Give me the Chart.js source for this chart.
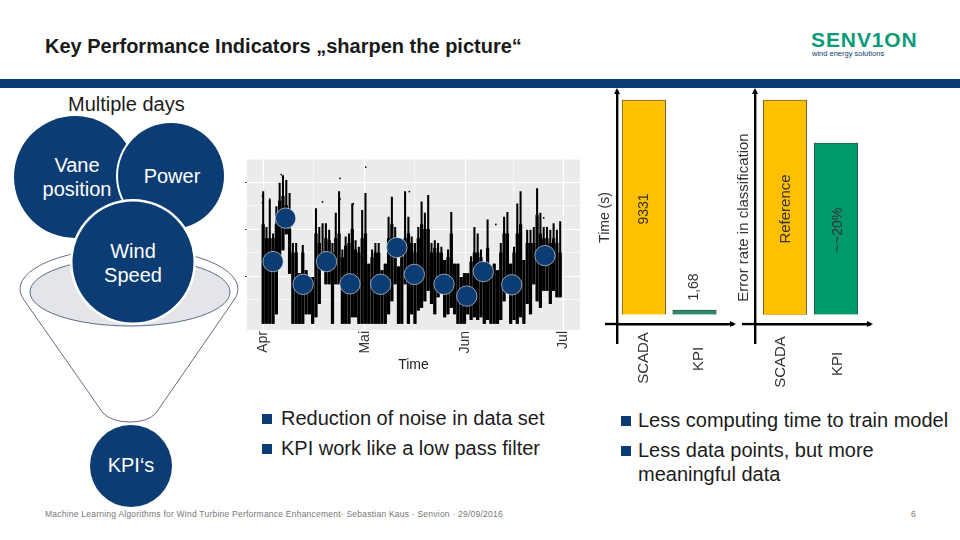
<!DOCTYPE html>
<html><head><meta charset="utf-8">
<style>
html,body{margin:0;padding:0;background:#fff;width:960px;height:540px;overflow:hidden;font-family:"Liberation Sans",Arial,sans-serif}
canvas{position:absolute}
.t{position:absolute;white-space:nowrap;color:#1c1c1c}
.sq{position:absolute;width:10px;height:10px;background:#0b3c73}
#shapes{position:absolute;left:0;top:0}
</style>
<script src="https://cdn.jsdelivr.net/npm/chart.js@4"></script>
</head><body>
<svg id="shapes" width="960" height="540" font-family="Liberation Sans, Arial, sans-serif">
  <rect x="0" y="79" width="960" height="9" fill="#0b3c73"/>
  <circle cx="75" cy="177" r="61" fill="#0b3c73"/>
  <circle cx="171" cy="176" r="55" fill="#fff"/>
  <circle cx="171" cy="176" r="53" fill="#0b3c73"/>
  <path d="M24 300 A109 41 0 1 1 234 300 L156 413 Q148 422 130 422 Q112 422 103 413 Z" fill="#fff" stroke="#20344f" stroke-width=".7"/>
  <ellipse cx="130" cy="292" rx="100" ry="34" fill="#e3e5ea" stroke="#20344f" stroke-width=".7"/>
  <circle cx="133" cy="262" r="63" fill="#fff"/>
  <circle cx="133" cy="262" r="60.5" fill="#0b3c73"/>
  <circle cx="131" cy="466" r="41" fill="#0b3c73"/>
  <g fill="#fff" font-size="20" text-anchor="middle">
    <text x="77" y="172">Vane</text><text x="77" y="196">position</text>
    <text x="172" y="183">Power</text>
    <text x="133" y="258">Wind</text><text x="133" y="282">Speed</text>
    <text x="131" y="472">KPI‘s</text>
  </g>
</svg>

<div class="t" style="left:45px;top:35px;font-size:20px;font-weight:bold;color:#1a1a1a">Key Performance Indicators „sharpen the picture“</div>
<div class="t" style="left:68px;top:93px;font-size:20px">Multiple days</div>
<div class="t" style="left:811px;top:28px;font-size:21px;font-weight:bold;color:#0b9a78;letter-spacing:.9px">SENV1ON</div>
<div class="t" style="left:812px;top:49px;font-size:7.5px;color:#0b3c73">wind energy solutions</div>

<div class="sq" style="left:262px;top:414px"></div>
<div class="t" style="left:281px;top:407px;font-size:20px">Reduction of noise in data set</div>
<div class="sq" style="left:262px;top:444px"></div>
<div class="t" style="left:281px;top:437px;font-size:20px">KPI work like a low pass filter</div>
<div class="sq" style="left:621px;top:416px"></div>
<div class="t" style="left:638px;top:409px;font-size:20px">Less computing time to train model</div>
<div class="sq" style="left:621px;top:446px"></div>
<div class="t" style="left:638px;top:439px;font-size:20px">Less data points, but more</div>
<div class="t" style="left:638px;top:463px;font-size:20px">meaningful data</div>
<div class="t" style="left:45px;top:509px;font-size:8.5px;color:#777;letter-spacing:.23px">Machine Learning Algorithms for Wind Turbine Performance Enhancement· Sebastian Kaus · Senvion · 29/09/2016</div>
<div class="t" style="left:911px;top:509px;font-size:8.5px;color:#777">6</div>

<canvas id="ts" width="345" height="230" style="left:240px;top:150px"></canvas>
<canvas id="time" width="140" height="305" style="left:597px;top:85px"></canvas>
<canvas id="err" width="140" height="305" style="left:735px;top:85px"></canvas>

<script>
// ---- data ----
const spikeTop = [14.0,10.2,13.1,9.5,12.4,14.9,15.7,15.2,13.8,8.5,
 8.5,5.3,8.3,5.6,4.9,4.9,12.2,10.2,10.6,10.6,
 9.9,8.5,11.7,14.0,7.8,9.2,9.5,12.7,8.8,8.1,
 12.0,13.8,6.3,7.8,8.5,8.5,5.6,6.3,11.3,13.4,
 10.2,6.0,7.8,14.0,11.3,9.2,8.5,10.2,12.9,11.7,
 13.6,8.5,8.8,8.5,8.1,6.7,7.8,11.8,6.3,6.3,
 4.9,5.3,5.3,7.1,10.2,9.5,7.8,6.0,11.0,6.0,
 6.3,5.6,8.5,11.3,11.8,6.3,8.1,12.7,14.0,6.7,
 9.9,9.9,10.2,14.3,11.7,10.2,10.2,9.9,10.6,9.9,10.8];
const coreTop = [10.5,9.0,9.0,9.0,10.5,13.0,13.5,12.5,10.0,7.5,
 7.5,5.3,7.5,5.6,4.9,4.9,9.5,8.5,7.5,9.0,
 8.8,7.5,9.0,9.5,7.0,8.2,8.5,10.0,7.8,7.5,
 9.0,9.5,6.3,7.0,7.5,7.5,5.6,6.3,9.0,10.5,
 8.5,6.0,7.0,9.0,9.5,8.5,7.5,9.0,10.5,10.0,
 10.0,7.5,8.0,7.5,7.5,6.7,7.0,9.5,6.3,6.3,
 4.9,5.3,5.3,6.5,7.5,7.5,7.0,6.0,8.0,6.0,
 6.3,5.6,7.5,9.5,9.5,6.3,7.5,9.5,10.5,6.7,
 8.5,8.5,8.5,11.5,9.5,9.0,9.0,8.5,9.0,8.5,7.5];
const spikeLow = [0,0,0,0,1.0,6.0,7.8,9.5,5.3,0,
 0,0,0,1.0,1.0,0,0.7,2.1,6.0,4.2,
 4.2,0,4.2,4.2,0,0,0,0.7,0.7,0,
 0,0,0,0,0,0,0,0,1.0,2.4,
 4.2,0,0,4.2,0,1.0,0,1.4,1.7,2.4,
 3.5,2.1,1.0,2.8,3.2,0.7,1.0,1.7,1.0,0,
 0,0,1.0,0.4,0.7,0.4,0.7,0,0.4,0,
 0,0,0.4,2.4,3.5,0,0.4,0,0.7,0,
 2.1,1.0,4.2,2.4,1.7,3.5,3.5,2.1,3.5,2.8,2.8];
const strayDays = [23.3,23.3,31.1,18,27.3,44.3,2,5.5,70.5,82,85,-0.2,-0.2];
const strayVals = [15.4,13.2,16.6,12.9,12.7,14.0,13.2,15.8,10.5,9.5,11.2,13.5,12.8];
const kpiDays = [3.0,6.8,12.1,19.2,26.3,35.6,40.5,45.8,54.8,61.7,66.7,75.3,85.4];
const kpiVals = [6.56,11.17,4.15,6.56,4.2,4.15,8.05,5.2,4.15,2.9,5.5,4.1,7.2];
const monthTicks = [0,30.8,61.2,91];
const monthLabels = ['Apr','Mai','Jun','Jul'];
const minorTicks = [15.2,46,76];
const yMajor = [5,10,15];
const yMinor = [2.5,7.5,12.5];

const methods = ['SCADA','KPI'];
const timeValues = [9331,1.68];
const timeText = ['9331','1,68'];
const errorValues = [100,80];
const errorText = ['Reference','~~20%'];

// ---- shared ----
const FONT = '"Liberation Sans", Arial, sans-serif';
Chart.defaults.font.family = FONT;
Chart.defaults.animation = false;
const NAVY = '#0b3c73', YELLOW = '#ffc000', GREEN = '#009a6a';

const panel = {id:'panel',beforeDraw(c){const a=c.chartArea,x=c.ctx;x.save();x.fillStyle='#ebebeb';x.fillRect(a.left,a.top,a.width,a.height);x.restore();}};
const noPad = s=>{s.paddingLeft=0;s.paddingRight=0;s.paddingTop=0;s.paddingBottom=0;};

new Chart(document.getElementById('ts'),{
  type:'bar',
  plugins:[panel],
  data:{datasets:[
    {type:'scatter',label:'KPI',data:kpiDays.map((d,i)=>({x:d,y:kpiVals[i]})),backgroundColor:NAVY,borderColor:'#eef2f6',borderWidth:.6,pointRadius:10.2,order:0},
    {type:'scatter',label:'stray',data:strayDays.map((d,i)=>({x:d,y:strayVals[i]})),backgroundColor:'#000',borderWidth:0,pointRadius:.9,order:1},
    {label:'core',data:coreTop.map((t,i)=>({x:i,y:[spikeLow[i],t]})),backgroundColor:'#000',barThickness:2.6,grouped:false,order:2},
    {label:'spikes',data:spikeTop.map((t,i)=>({x:i,y:[spikeLow[i],t]})),backgroundColor:'#000',barThickness:1.4,grouped:false,order:3}
  ]},
  options:{
    responsive:false,
    layout:{autoPadding:false,padding:{top:9.5,right:5,left:0,bottom:6}},
    plugins:{legend:{display:false},tooltip:{enabled:false}},
    scales:{
      x:{type:'linear',min:-4.9,max:96,offset:false,
        afterBuildTicks:s=>{s.ticks=monthTicks.concat(minorTicks).sort((a,b)=>a-b).map(v=>({value:v}));},
        afterFit:s=>{s.height=44;noPad(s);},
        grid:{offset:false,color:c=>minorTicks.includes(c.tick&&c.tick.value)?'rgba(255,255,255,.65)':'#fff',lineWidth:1,drawTicks:false},
        border:{display:false},
        ticks:{minRotation:90,maxRotation:90,autoSkip:false,padding:1,color:'#333',font:{size:14},
          callback:v=>{const i=monthTicks.indexOf(v);return i<0?'':monthLabels[i];}},
        title:{display:true,text:'Time',color:'#222',font:{size:14},padding:0}
      },
      y:{min:-0.7,max:17.4,
        afterBuildTicks:s=>{s.ticks=yMajor.concat(yMinor).sort((a,b)=>a-b).map(v=>({value:v}));},
        afterFit:s=>{s.width=7;noPad(s);},
        grid:{color:c=>yMinor.includes(c.tick&&c.tick.value)?'rgba(255,255,255,.65)':'#fff',
              tickColor:c=>yMinor.includes(c.tick&&c.tick.value)?'rgba(0,0,0,0)':'#555',tickLength:2,lineWidth:1},
        border:{display:false},
        ticks:{display:false}
      }
    }
  }
});

// axis stubs, arrowheads and rotated labels of the two bar panels
function barPanel(opts){
  return {id:'barPanel',afterDraw(c){
    const x=c.ctx,sx=c.scales.x,sy=c.scales.y,a=c.chartArea;
    const ay=sy.getPixelForValue(opts.axisAt);
    x.save();
    x.strokeStyle='#000';x.fillStyle='#000';x.lineWidth=2.4;
    x.beginPath();x.moveTo(a.left,ay);x.lineTo(a.left-opts.stub,ay);x.stroke();
    x.beginPath();x.moveTo(a.left,a.top-4);x.lineTo(a.left-3,a.top+2);x.lineTo(a.left+3,a.top+2);x.closePath();x.fill();
    x.beginPath();x.moveTo(a.right+3,ay);x.lineTo(a.right-3,ay-3);x.lineTo(a.right-3,ay+3);x.closePath();x.fill();
    x.textAlign='center';x.textBaseline='middle';x.fillStyle='#333';
    const rot=(t,px,py,size)=>{x.save();x.font=size+'px '+FONT;x.translate(px,py);x.rotate(-Math.PI/2);x.fillText(t,0,0);x.restore();};
    methods.forEach((m,i)=>{const s=opts.cats[i];rot(m,sx.getPixelForValue(i)+s[0],s[1],15);});
    opts.text.forEach((t,i)=>{const s=opts.vals[i];rot(t,sx.getPixelForValue(i)+s[0],s[1],s[2]);});
    x.restore();
  }};
}
function barChart(id,values,title,titleSize,xmin,xmax,ymin,ymax,axisAt,pluginOpts,barColors){
  return new Chart(document.getElementById(id),{
    type:'bar',
    plugins:[barPanel(Object.assign({axisAt},pluginOpts))],
    data:{datasets:[{data:values.map((v,i)=>({x:i,y:v})),backgroundColor:barColors,borderColor:'#3c3c3c',borderWidth:.8,barThickness:43.5,minBarLength:5}]},
    options:{
      responsive:false,
      layout:{padding:{top:7,bottom:47,left:0,right:pluginOpts.padRight}},
      plugins:{legend:{display:false},tooltip:{enabled:false}},
      scales:{
        x:{type:'linear',min:xmin,max:xmax,offset:false,position:{y:axisAt},
          grid:{display:true,offset:false,color:'rgba(0,0,0,0)',drawTicks:false},
          border:{display:true,color:'#000',width:2.4},
          ticks:{display:false}},
        y:{min:ymin,max:ymax,
          afterFit:s=>{s.width=20;noPad(s);},
          grid:{display:true,color:'rgba(0,0,0,0)',drawTicks:false},
          border:{display:true,color:'#000',width:2.4},
          ticks:{display:false},
          title:{display:true,text:title,color:'#333',font:{size:titleSize},padding:0}}
      }
    }
  });
}
barChart('time',timeValues,'Time (s)',14,-0.53,1.76,-1215,9678,-390,
  {stub:12,padRight:4,text:timeText,vals:[[0,124,14],[0,202,14]],cats:[[0,273],[4,274]]},[YELLOW,'#2e8b6a']);
barChart('err',errorValues,'Error rate in classification',15,-0.588,1.667,-13,103.7,-4.2,
  {stub:13,padRight:5,text:errorText,vals:[[1,124,15],[2,145,14]],cats:[[-4,277],[2,279]]},[YELLOW,GREEN]);
</script>
</body></html>
